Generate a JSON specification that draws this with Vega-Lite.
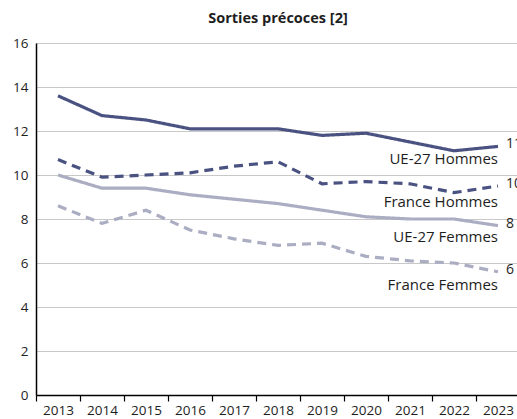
{
  "$schema": "https://vega.github.io/schema/vega-lite/v6.json",
  "width": 484,
  "height": 352,
  "autosize": "none",
  "padding": {"left": 36, "top": 43, "right": 0, "bottom": 24},
  "background": "white",
  "title": {"text": "Sorties précoces [2]", "fontSize": 14.5, "font": "Open Sans", "fontWeight": "bold", "color": "#1e1e1e", "anchor": "middle", "offset": 10},
  "config": {"view": {"stroke": null}, "font": "Open Sans"},
  "datasets": {
    "series": [
      {"year": "2013", "serie": "UE-27 Hommes", "value": 13.6},
      {"year": "2014", "serie": "UE-27 Hommes", "value": 12.7},
      {"year": "2015", "serie": "UE-27 Hommes", "value": 12.5},
      {"year": "2016", "serie": "UE-27 Hommes", "value": 12.1},
      {"year": "2017", "serie": "UE-27 Hommes", "value": 12.1},
      {"year": "2018", "serie": "UE-27 Hommes", "value": 12.1},
      {"year": "2019", "serie": "UE-27 Hommes", "value": 11.8},
      {"year": "2020", "serie": "UE-27 Hommes", "value": 11.9},
      {"year": "2021", "serie": "UE-27 Hommes", "value": 11.5},
      {"year": "2022", "serie": "UE-27 Hommes", "value": 11.1},
      {"year": "2023", "serie": "UE-27 Hommes", "value": 11.3},
      {"year": "2013", "serie": "France Hommes", "value": 10.7},
      {"year": "2014", "serie": "France Hommes", "value": 9.9},
      {"year": "2015", "serie": "France Hommes", "value": 10.0},
      {"year": "2016", "serie": "France Hommes", "value": 10.1},
      {"year": "2017", "serie": "France Hommes", "value": 10.4},
      {"year": "2018", "serie": "France Hommes", "value": 10.6},
      {"year": "2019", "serie": "France Hommes", "value": 9.6},
      {"year": "2020", "serie": "France Hommes", "value": 9.7},
      {"year": "2021", "serie": "France Hommes", "value": 9.6},
      {"year": "2022", "serie": "France Hommes", "value": 9.2},
      {"year": "2023", "serie": "France Hommes", "value": 9.5},
      {"year": "2013", "serie": "UE-27 Femmes", "value": 10.0},
      {"year": "2014", "serie": "UE-27 Femmes", "value": 9.4},
      {"year": "2015", "serie": "UE-27 Femmes", "value": 9.4},
      {"year": "2016", "serie": "UE-27 Femmes", "value": 9.1},
      {"year": "2017", "serie": "UE-27 Femmes", "value": 8.9},
      {"year": "2018", "serie": "UE-27 Femmes", "value": 8.7},
      {"year": "2019", "serie": "UE-27 Femmes", "value": 8.4},
      {"year": "2020", "serie": "UE-27 Femmes", "value": 8.1},
      {"year": "2021", "serie": "UE-27 Femmes", "value": 8.0},
      {"year": "2022", "serie": "UE-27 Femmes", "value": 8.0},
      {"year": "2023", "serie": "UE-27 Femmes", "value": 7.7},
      {"year": "2013", "serie": "France Femmes", "value": 8.6},
      {"year": "2014", "serie": "France Femmes", "value": 7.8},
      {"year": "2015", "serie": "France Femmes", "value": 8.4},
      {"year": "2016", "serie": "France Femmes", "value": 7.5},
      {"year": "2017", "serie": "France Femmes", "value": 7.1},
      {"year": "2018", "serie": "France Femmes", "value": 6.8},
      {"year": "2019", "serie": "France Femmes", "value": 6.9},
      {"year": "2020", "serie": "France Femmes", "value": 6.3},
      {"year": "2021", "serie": "France Femmes", "value": 6.1},
      {"year": "2022", "serie": "France Femmes", "value": 6.0},
      {"year": "2023", "serie": "France Femmes", "value": 5.6}
    ],
    "labels": [
      {"year": "2023", "label": "UE-27 Hommes", "pos": 10.75},
      {"year": "2023", "label": "France Hommes", "pos": 8.77},
      {"year": "2023", "label": "UE-27 Femmes", "pos": 7.18},
      {"year": "2023", "label": "France Femmes", "pos": 5.0}
    ]
  },
  "encoding": {
    "x": {
      "field": "year", "type": "ordinal", "bandPosition": 0.5,
      "scale": {"type": "band", "paddingInner": 0, "paddingOuter": 0},
      "axis": {"title": null, "labelAngle": 0, "tickBand": "extent", "domainColor": "#000000", "domainWidth": 1.5, "tickColor": "#000000", "tickWidth": 1.2, "tickSize": 6, "grid": false, "labelFontSize": 13.5, "labelColor": "#1e1e1e", "labelPadding": 2}
    }
  },
  "layer": [
    {
      "data": {"name": "series"},
      "mark": {"type": "line", "strokeWidth": 3.2},
      "encoding": {
        "y": {
          "field": "value", "type": "quantitative",
          "scale": {"domain": [0, 16], "nice": false},
          "axis": {"title": null, "values": [0, 2, 4, 6, 8, 10, 12, 14, 16], "ticks": false, "domainColor": "#000000", "domainWidth": 1.5, "gridColor": "#c8c8c8", "gridWidth": 1, "labelFontSize": 13.5, "labelColor": "#1e1e1e", "labelPadding": 8}
        },
        "color": {
          "field": "serie", "type": "nominal", "legend": null,
          "scale": {"domain": ["UE-27 Hommes", "France Hommes", "UE-27 Femmes", "France Femmes"], "range": ["#4a5282", "#4a5282", "#abadc2", "#abadc2"]}
        },
        "strokeDash": {
          "field": "serie", "type": "nominal", "legend": null,
          "scale": {"domain": ["UE-27 Hommes", "France Hommes", "UE-27 Femmes", "France Femmes"], "range": [[1, 0], [9, 6], [1, 0], [9, 6]]}
        }
      }
    },
    {
      "data": {"name": "series"},
      "transform": [{"filter": "datum.year == '2023'"}],
      "mark": {"type": "text", "align": "left", "baseline": "middle", "dx": 8, "dy": -2, "fontSize": 14, "color": "#1e1e1e"},
      "encoding": {
        "y": {"field": "value", "type": "quantitative"},
        "text": {"field": "value", "type": "quantitative", "format": ".0f"}
      }
    },
    {
      "data": {"name": "labels"},
      "mark": {"type": "text", "align": "right", "baseline": "middle", "fontSize": 15, "color": "#1e1e1e"},
      "encoding": {
        "y": {"field": "pos", "type": "quantitative"},
        "text": {"field": "label", "type": "nominal"}
      }
    }
  ]
}
